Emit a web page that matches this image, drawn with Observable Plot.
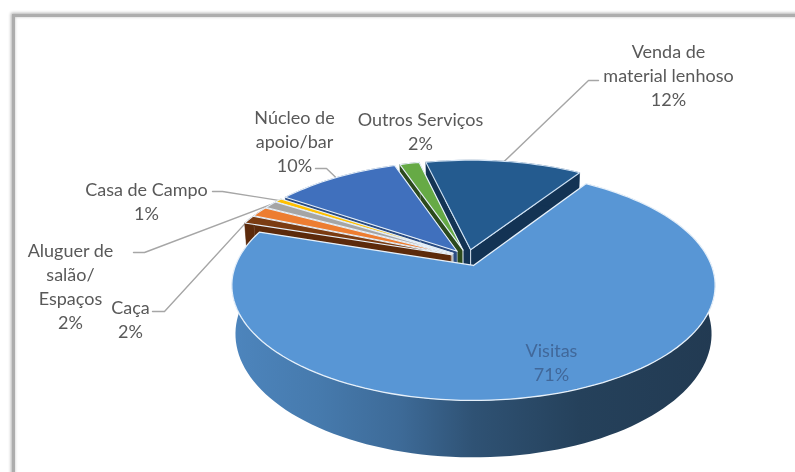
<!DOCTYPE html>
<html>
<head>
<meta charset="utf-8">
<script src="https://cdn.jsdelivr.net/npm/d3@7"></script>
<script src="https://cdn.jsdelivr.net/npm/@observablehq/plot@0.6"></script>
<style>
html,body{margin:0;padding:0;background:#fff;overflow:hidden;width:795px;height:472px}
#frame{position:absolute;left:12px;top:14px;width:800px;height:480px;border:3px solid #adadad;box-shadow:0 0 3px 1px #b0b0b0,inset 0 0 3px #c4c4c4}
#chart{position:absolute;left:0;top:0}
#chart svg{background:transparent;display:block;filter:blur(0.35px)}
</style>
</head>
<body>
<div id="frame"></div>
<div id="chart"></div>
<script>
// Data, in clockwise pie order, starting at Visitas
const categories = ["Visitas", "Caça", "", "Aluguer de salão/ Espaços", "Casa de Campo", "Núcleo de apoio/bar", "Outros Serviços", "Venda de material lenhoso"];
const shares = [71, 1.2, 1.5, 1.1, 0.6, 10.2, 1.6, 12.8];
const percentLabels = ["71%", "2%", "", "2%", "1%", "10%", "2%", "12%"];
const topColors = ["#5896d5", "#7b3c12", "#ed7d31", "#a5a5a5", "#ffc000", "#4070bd", "#66aa45", "#245b8f"];
const wallColors = ["url(#wallGrad)", "#5c2a0b", "#9e4f1a", "#6b6b6b", "#8a6a00", "#2b4c82", "#2c4a1c", "#133354"];

// Label layout (text block centre, and leader knee points)
const labelText = ["Visitas\n71%", "Caça\n2%", "", "Aluguer de\nsalão/\nEspaços\n2%", "Casa de Campo\n1%", "Núcleo de\napoio/bar\n10%", "Outros Serviços\n2%", "Venda de\nmaterial lenhoso\n12%"];
const labelX = [551, 130, null, 70, 146, 294, 420, 668];
const labelY = [361, 318, null, 285, 200, 140, 130, 74];
const leaderStart = [null, [152,311], null, [133,252], [212,191], [315,168], null, [598,80]];
const leaderKnee = [null, [164,311], null, [144,252], [222,191], [326,168], null, [588,80]];

// 3D pie geometry
const startAngle = 32.8, apexX = 473, apexY = 265, axisX = 475;
const A = 238, B = 111.5, k = 0.174, depth = 47, explode = 0.075, cu = -0.025, cv = -0.071, bottomScale = 0.985;
const rad = d => d * Math.PI / 180;
function proj(U, V, lower) {
  const w = 1 - k * V;
  let x = apexX + A * U / w, y = apexY + B * V / w;
  if (lower) { x = axisX + (x - axisX) * bottomScale; y += depth / w; }
  return {x, y};
}
const total = d3.sum(shares);
let acc = startAngle;
const slices = shares.map((s, i) => {
  const a0 = acc, a1 = acc + s / total * 360; acc = a1;
  const mid = (a0 + a1) / 2;
  const ou = cu + explode * Math.sin(rad(mid)), ov = cv - explode * Math.cos(rad(mid));
  const r = i === 0 ? 1 : 0.985;
  const pt = (a, lower) => proj(ou + r * Math.sin(rad(a)), ov - r * Math.cos(rad(a)), lower);
  const apex = lower => proj(ou, ov, lower);
  const n = Math.max(2, Math.ceil((a1 - a0) / 2));
  const arc = lower => d3.range(n + 1).map(j => pt(a0 + (a1 - a0) * j / n, lower));
  return {i, a0, a1, mid, pt, apex, arc};
});

const poly = (pts, fill, stroke, strokeWidth) =>
  Plot.line([...pts, pts[0]], {x: "x", y: "y", fill, stroke: stroke || fill, strokeWidth: strokeWidth || 0.5, curve: "linear"});

const edgeLight = "#e6f0fa";
const marks = [];
marks.push(() => {
  const defs = d3.create("svg:defs");
  const g = defs.append("linearGradient").attr("id", "wallGrad").attr("x1", 0).attr("x2", 1).attr("y1", 0).attr("y2", 0);
  [[0, "#4d85bd"], [0.18, "#467aad"], [0.35, "#3d6a97"], [0.5, "#2f5274"], [0.72, "#25415b"], [1, "#223a52"]]
    .forEach(([o, c]) => g.append("stop").attr("offset", o).attr("stop-color", c));
  return defs.node();
});

// Leaders go under the slices; each ends on the rim of its slice
slices.forEach(s => {
  if (!leaderStart[s.i]) return;
  const rim = s.pt(s.mid, false);
  const pts = [{x: leaderStart[s.i][0], y: leaderStart[s.i][1]}, {x: leaderKnee[s.i][0], y: leaderKnee[s.i][1]}, rim];
  marks.push(Plot.line(pts, {x: "x", y: "y", stroke: "#a6a6a6", strokeWidth: 1.4, curve: "linear"}));
});

// Painter's order: far slices first, Visitas last
const order = [7, 6, 5, 4, 3, 2, 1];
order.forEach(i => {
  const s = slices[i], fill = wallColors[i];
  const t0 = s.pt(s.a0, false), t1 = s.pt(s.a1, false), b0 = s.pt(s.a0, true), b1 = s.pt(s.a1, true);
  const at = s.apex(false), ab = s.apex(true);
  marks.push(poly([at, t0, b0, ab], fill, edgeLight, i === 7 || i === 6 ? 0.8 : 0.4));
  marks.push(poly([at, t1, b1, ab], fill, edgeLight, i === 7 || i === 6 ? 0.8 : 0.4));
  marks.push(poly([...s.arc(false), ...s.arc(true).reverse()], fill));
  marks.push(poly([at, ...s.arc(false)], topColors[i], i === 7 ? "#cfe2f5" : edgeLight, 1.1));
});
const v = slices[0];
marks.push(poly([...v.arc(false), ...v.arc(true).reverse()], wallColors[0], "none"));
marks.push(poly([v.apex(false), ...v.arc(false)], topColors[0], edgeLight, 1.3));

// Labels
const labels = slices.filter(s => labelX[s.i] != null).map(s => ({
  name: categories[s.i], pct: percentLabels[s.i], text: labelText[s.i],
  x: labelX[s.i], y: labelY[s.i], color: s.i === 0 ? "#41689a" : "#595959"
}));
["#41689a", "#595959"].forEach(color => {
  marks.push(Plot.text(labels.filter(d => d.color === color), {
    x: "x", y: "y", text: "text", fill: color, fontSize: 18, lineHeight: 1.333,
    fontFamily: "Lato, 'Open Sans', sans-serif", textAnchor: "middle"
  }));
});

const chart = Plot.plot({
  width: 795, height: 472, margin: 0,
  x: {axis: null, domain: [0, 795], range: [0, 795]},
  y: {axis: null, domain: [0, 472], range: [0, 472]},
  marks
});
document.getElementById("chart").appendChild(chart);
</script>
</body>
</html>
